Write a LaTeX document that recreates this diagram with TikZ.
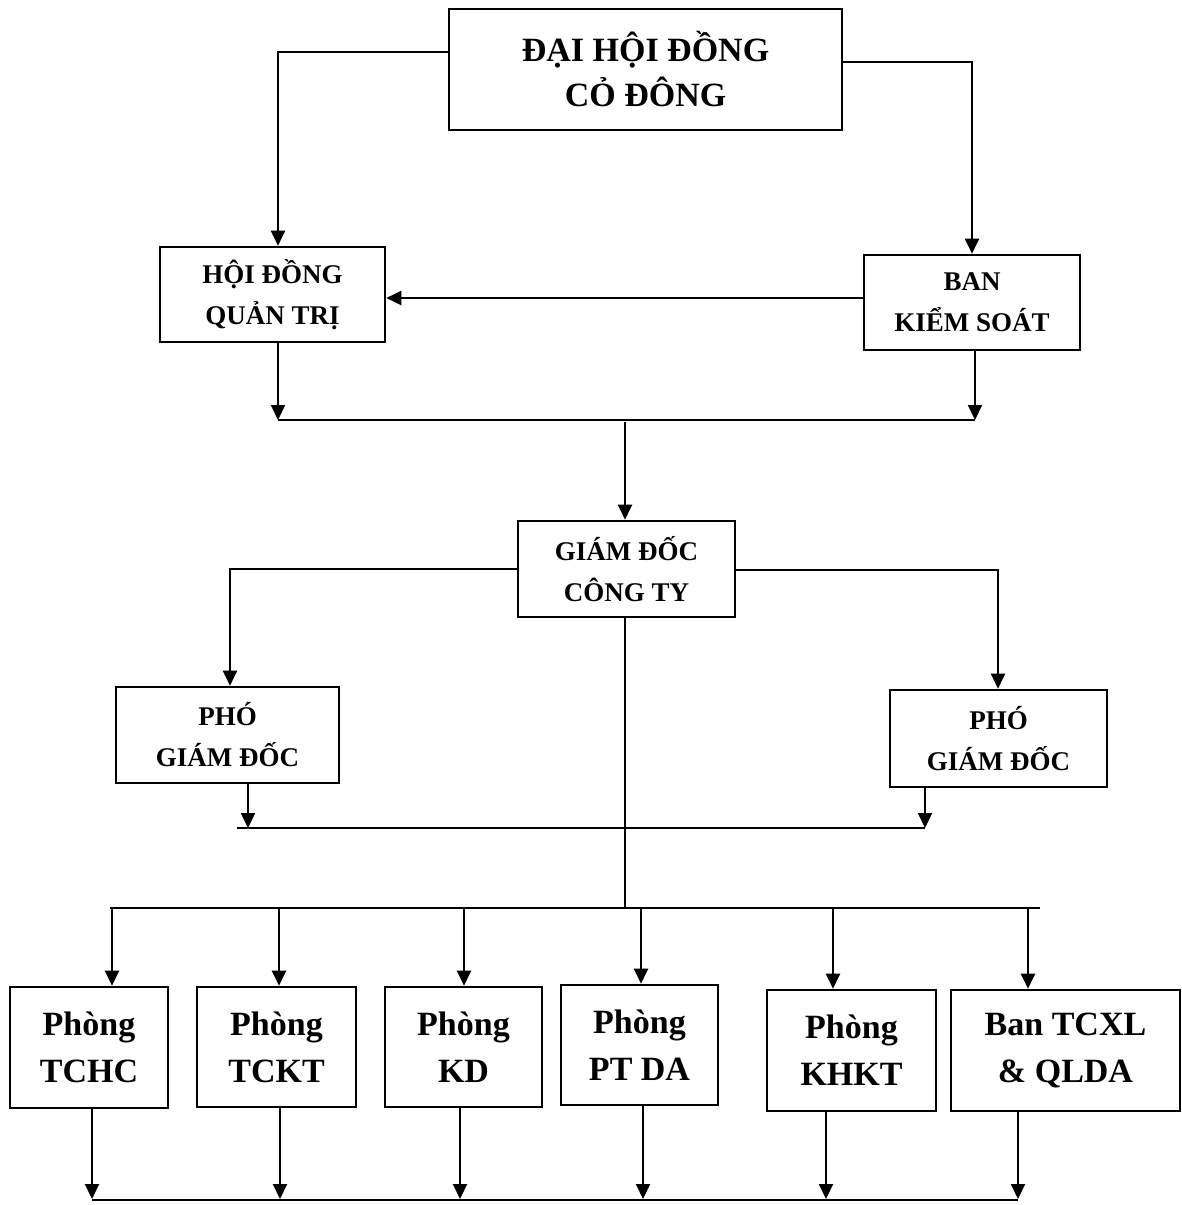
\documentclass[tikz,border=0pt]{standalone}
\usepackage{fontspec}
\setmainfont{Liberation Serif}
\usepackage{tikz}
\usetikzlibrary{arrows.meta}
\usetikzlibrary{calc}

\begin{document}
\begin{tikzpicture}[x=0.5pt,y=-0.5pt,
    box/.style 2 args={draw, line width=1.3pt, inner sep=0pt, align=center,
        minimum width=#1*0.5pt, minimum height=#2*0.5pt},
    arr/.style={-{Triangle[length=7.5pt,width=7pt]}},
    every path/.style={line width=1pt},
    top/.style={font=\bfseries\fontsize{17}{22.5}\selectfont},
    mid/.style={font=\bfseries\fontsize{13.5}{20.5}\selectfont},
    low/.style={font=\bfseries\fontsize{17}{23.5}\selectfont}]
            \useasboundingbox (0,0) rectangle (1182,1205);

            % boxes
            \node[box={393}{121}, top] (dhcd) at (645.5,69.5) {ĐẠI HỘI ĐỒNG\\CỎ ĐÔNG};
            \node[box={225}{95}, mid] (hdqt) at (272.5,294.5) {HỘI ĐỒNG\\QUẢN TRỊ};
            \node[box={216}{95}, mid] (bks) at (972,302.5) {BAN\\KIỂM SOÁT};
            \node[box={217}{96}, mid] (gd) at (626.5,569) {GIÁM ĐỐC\\CÔNG TY};
            \node[box={223}{96}, mid] (pgdL) at (227.5,735) {PHÓ\\GIÁM ĐỐC};
            \node[box={217}{97}, mid] (pgdR) at (998.5,738.5) {PHÓ\\GIÁM ĐỐC};

            \node[box={158}{121}, low] (tchc) at (89,1047.5) {Phòng\\TCHC};
            \node[box={159}{120}, low] (tckt) at (276.5,1047) {Phòng\\TCKT};
            \node[box={157}{120}, low] (kd) at (463.5,1047) {Phòng\\KD};
            \node[box={157}{120}, low] (ptda) at (639.5,1045) {Phòng\\PT DA};
            \node[box={169}{121}, low] (khkt) at (851.5,1050.5) {Phòng\\KHKT};
            \node[box={229}{121}, low] (tcxl) at (1065.5,1050.5) {Ban TCXL\\\& QLDA};

            % top level
            \coordinate (aL) at (278,52);
            \coordinate (aR) at (972,62);
            \draw[arr] (dhcd.west |- aL) -- (aL) -- (aL |- hdqt.north);
            \draw[arr] (dhcd.east |- aR) -- (aR) -- (aR |- bks.north);
            \draw[arr] (bks.west |- 0,298) -- (hdqt.east |- 0,298);

            \coordinate (jL) at (278,420);
            \coordinate (jR) at (975,420);
            \coordinate (jM) at (625,422);
            \draw[arr] (jL |- hdqt.south) -- (jL);
            \draw[arr] (jR |- bks.south) -- (jR);
            \draw (jL) -- (jR);
            \draw[arr] (jM) -- (jM |- gd.north);

            % directors
            \coordinate (bL) at (230,569);
            \coordinate (bR) at (998,570);
            \draw[arr] (gd.west |- bL) -- (bL) -- (bL |- pgdL.north);
            \draw[arr] (gd.east |- bR) -- (bR) -- (bR |- pgdR.north);

            \coordinate (kL) at (248,828);
            \coordinate (kR) at (925,828);
            \draw[arr] (kL |- pgdL.south) -- (kL);
            \draw[arr] (kR |- pgdR.south) -- (kR);
            \draw (237,828) -- (kR);

            % departments
            \coordinate (hub) at (625,908);
            \draw (gd.south -| hub) -- (hub);
            \draw (110,908) -- (1040,908);
            \foreach \b/\x in {tchc/112,tckt/279,kd/464,ptda/641,khkt/833,tcxl/1028}
                \draw[arr] (\x,908) -- (\b.north -| \x,908);
            \foreach \b/\x in {tchc/92,tckt/280,kd/460,ptda/643,khkt/826,tcxl/1018}
                \draw[arr] (\b.south -| \x,0) -- (\x,1199);
            \draw (92,1200) -- (1018,1200);
\end{tikzpicture}
\end{document}
